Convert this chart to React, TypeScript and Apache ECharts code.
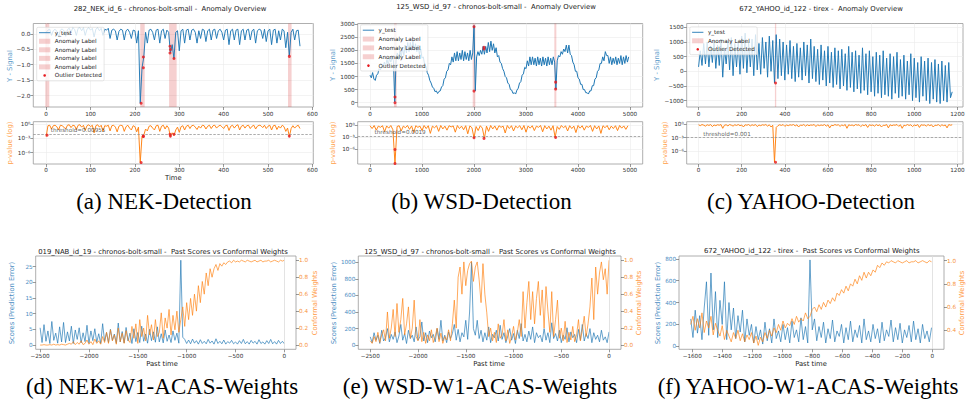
import React, { useEffect, useRef } from 'react';
import * as echarts from 'echarts';

const FONT = 'DejaVu Sans';
const SERIF = 'Liberation Serif';
const BLUE = '#1f77b4';
const ORANGE = '#ff7f0e';
const RED = '#e6191e';
const BAND = 'rgba(214,39,40,0.22)';
const TICK = 5.66;
const LABEL = 6.8;
const TITLE = 6.9;

// ---------------- (a) NEK detection ----------------
const nekX0 = 0;
const nekDx = 4;
const nekSignal = [
  0.05, 0.12, 0.15, -0.05, 0.1, 0.15, 0.08, -0.1, 0.12, 0.16,
  0.1, -0.08, 0.14, 0.18, 0.05, 0.2, 0.15, -0.05, 0.18, 0.2,
  0.1, 0.2, -0.05, 0.15, 0.2, 0.12, 0.18, -0.1, 0.15, 0.2,
  0.1, 0.18, -0.05, 0.15, 0.12, 0.18, -0.15, 0.12, 0.15, 0.1,
  -0.2, 0.08, 0.15, 0.12, -0.2, 0.1, 0.15, 0.05, -0.15, 0.12,
  0.1, -0.3, 0.1, -2.25, -1.1, -0.75, 0.05, -0.3, 0.12, 0.15,
  0.05, -0.2, 0.12, 0.15, -0.3, 0.1, 0.15, -0.15, 0.12, 0.05,
  -0.62, -0.35, -0.8, 0.05, 0.1, -0.55, 0.1, 0.15, -0.3, 0.12,
  0.15, -0.2, 0.12, 0.15, 0.05, -0.3, 0.1, -0.15, 0.15, 0.12,
  -0.25, 0.1, 0.15, -0.2, 0.12, 0.15, -0.15, 0.1, 0.15, 0.05,
  -0.2, 0.12, 0.15, -0.35, 0.1, 0.15, -0.2, 0.12, 0.15, -0.35,
  0.1, 0.15, -0.2, 0.12, 0.15, -0.2, 0.1, 0.15, -0.3, 0.1,
  0.15, 0.12, -0.15, 0.15, -0.25, 0.1, 0.15, -0.35, 0.12, 0.15,
  -0.3, 0.1, -0.2, 0.15, 0.1, -0.45, 0.05, -0.72, 0.05, 0.15,
  -0.2, 0.1, 0.12, -0.4,
];
const nekLog10P = [
  -2.6, -0.3, -0.2, -1.0, -0.3, -0.2, -0.5, -1.2, -0.2, -0.3,
  -0.6, -1.0, -0.2, -0.1, -0.7, -0.2, -0.3, -1.1, -0.2, -0.1,
  -0.6, -0.2, -1.3, -0.3, -0.1, -0.5, -0.2, -1.8, -0.3, -0.1,
  -0.6, -0.2, -1.5, -0.3, -0.4, -0.2, -1.4, -0.3, -0.2, -0.6,
  -1.6, -0.4, -0.2, -0.3, -1.5, -0.5, -0.2, -0.8, -1.2, -0.3,
  -0.5, -1.6, -0.6, -8.1, -2.5, -2.3, -1.0, -1.4, -0.4, -0.3,
  -0.8, -1.2, -0.3, -0.2, -1.5, -0.4, -0.2, -1.0, -0.3, -0.8,
  -2.6, -1.8, -2.4, -1.2, -0.6, -1.7, -0.5, -0.3, -1.2, -0.4,
  -0.2, -0.9, -0.3, -0.2, -0.6, -1.1, -0.4, -0.8, -0.2, -0.3,
  -1.0, -0.4, -0.2, -0.9, -0.3, -0.2, -0.8, -0.4, -0.2, -0.5,
  -0.9, -0.3, -0.2, -1.3, -0.4, -0.2, -0.8, -0.3, -0.1, -1.2,
  -0.4, -0.2, -0.8, -0.3, -0.2, -0.9, -0.4, -0.2, -1.0, -0.4,
  -0.2, -0.3, -0.7, -0.2, -0.9, -0.4, -0.2, -1.2, -0.3, -0.2,
  -1.1, -0.4, -0.8, -0.2, -0.5, -1.5, -0.8, -2.6, -0.9, -0.3,
  -0.8, -0.4, -0.2, -0.9,
];
const nekOutlierSignal = [[214, -2.25], [219, -1.1], [219, -0.75], [279, -0.4], [280, -0.51], [279, -0.62], [288, -0.8], [548, -0.73]];
const nekOutlierLog10P = [[2, -2.3], [214, -8.1], [219, -2.5], [219, -2.6], [279, -2.1], [280, -2.5], [288, -2.1], [548, -2.5]];
const nekAnomalyBands = [[-2, 7], [212, 222], [277, 294], [545, 553]];
const nekThreshold = 0.00955;
const nekXTicks = [0, 100, 200, 300, 400, 500, 600];
const nekYTicks = [-2, -1.5, -1, -0.5, 0];

// ---------------- (b) WSD detection ----------------
const wsdX0 = 0;
const wsdDx = 25;
const wsdPDx = 40;
const wsdSignal = [
  1050, 950, 1150, 900, 850, 1050, 1100, 1300, 1250, 1400,
  1350, 1550, 1400, 1650, 1450, 1700, 1550, 1750, 1600, 30,
  1600, 1900, 1650, 2000, 1750, 2100, 1800, 2200, 1900, 2300,
  1950, 2300, 2000, 2350, 2000, 2250, 1950, 2200, 1850, 2050,
  1700, 1750, 1450, 1400, 1150, 1050, 850, 750, 600, 550,
  420, 450, 350, 430, 450, 600, 650, 900, 950, 1200,
  1250, 1500, 1450, 1750, 1550, 1900, 1600, 1950, 1600, 1900,
  1650, 2000, 1600, 1950, 1650, 1900, 1600, 2000, 1650, 1900,
  2950, 450, 1750, 1950, 1800, 2000, 1850, 2150, 1850, 2150,
  1900, 2300, 1950, 2350, 2000, 2250, 1900, 2100, 1750, 1800,
  1550, 1500, 1300, 1200, 1000, 950, 750, 700, 500, 480,
  350, 380, 330, 480, 550, 750, 800, 1050, 1100, 1350,
  1300, 1600, 1400, 1750, 1450, 1750, 1450, 1700, 1400, 1750,
  1450, 1700, 1400, 1750, 1450, 1700, 1400, 1750, 1450, 1700,
  1450, 1750, 1550, 520, 1600, 1800, 1750, 1950, 1850, 2050,
  1950, 2200, 1900, 2200, 1850, 1800, 1550, 1450, 1200, 1200,
  950, 900, 700, 700, 500, 500, 380, 380, 330, 450,
  450, 650, 650, 900, 950, 1200, 1250, 1500, 1500, 1750,
  1600, 1950, 1800, 1800, 1500, 1750, 1450, 1700, 1500, 1750,
  1450, 1700, 1500, 1800, 1450, 1750, 1500, 1800, 1550, 1750,
];
const wsdLog10P = [
  -0.1, -0.8, -0.05, -1.2, -0.2, -0.5, -0.1, -1.6, -0.15, -0.7,
  -0.05, -1.1, -9.5, -0.3, -0.1, -1.4, -0.2, -0.6, -0.05, -1.0,
  -0.15, -1.8, -0.1, -0.5, -0.2, -1.3, -0.05, -0.8, -0.1, -2.0,
  -0.2, -0.6, -0.1, -1.5, -0.05, -0.9, -0.2, -1.2, -0.1, -0.4,
  -0.15, -1.7, -0.05, -0.8, -0.2, -1.1, -0.1, -2.1, -0.15, -0.6,
  -3.1, -0.3, -1.3, -0.1, -0.7, -3.2, -0.2, -1.5, -0.05, -0.9,
  -0.15, -1.2, -0.1, -0.5, -0.2, -1.9, -0.05, -0.8, -0.1, -1.4,
  -0.2, -0.6, -0.1, -1.1, -0.05, -1.7, -0.15, -0.7, -0.1, -1.3,
  -0.2, -0.5, -0.05, -1.6, -0.1, -0.9, -0.2, -1.2, -0.1, -3.0,
  -0.3, -1.0, -0.05, -0.6, -0.15, -1.4, -0.1, -0.8, -0.2, -1.8,
  -0.05, -0.7, -0.1, -1.2, -0.2, -0.5, -0.05, -1.5, -0.1, -0.9,
  -0.15, -2.0, -0.1, -0.6, -0.05, -1.1, -0.2, -0.8, -0.1, -1.3,
  -0.05, -0.7, -0.15, -1.0, -0.1,
];
const wsdOutlierSignal = [[480, 215], [480, 0], [2000, 2900], [2000, 443], [2192, 2114], [2192, 2050], [3570, 785], [3570, 519]];
const wsdOutlierLog10P = [[480, -6.0], [480, -9.5], [2000, -3.1], [2192, -3.25], [3570, -3.0]];
const wsdAnomalyBands = [[462, 512], [1975, 2025], [3545, 3583]];
const wsdThreshold = 0.0019;
const wsdXTicks = [0, 1000, 2000, 3000, 4000, 5000];
const wsdYTicks = [0, 500, 1000, 1500, 2000, 2500, 3000];

// ---------------- (c) YAHOO detection ----------------
const yahooX0 = 0;
const yahooDx = 8;
const yahooSignal = [
  150, 700, 200, 950, 250, 1000, 150, 850, 300, 1050,
  100, 900, 200, 1100, -200, 800, 250, 1000, 50, 1150,
  -150, 950, 150, 1050, -100, 1200, 100, 1300, -50, 1000,
  150, 1100, -150, 1250, 50, 950, -100, 1150, 100, 1000,
  -200, 1200, 0, 1050, -400, 1250, -250, 1100, -150, 1000,
  -300, 900, -100, 1050, -250, 850, -350, 950, -200, 800,
  -300, 1000, -150, 900, -400, 1100, -250, 850, -350, 750,
  -450, 900, -300, 700, -500, 850, -400, 650, -550, 800,
  -450, 700, -600, 750, -500, 600, -650, 850, -550, 650,
  -700, 700, -600, 550, -750, 800, -650, 600, -800, 700,
  -700, 500, -850, 650, -750, 550, -900, 700, -800, 450,
  -850, 600, -950, 500, -750, 650, -900, 400, -850, 550,
  -950, 350, -800, 600, -1000, 450, -900, 300, -1050, 500,
  -850, 350, -1000, 450, -1100, 300, -950, 400, -1050, 250,
  -1100, 350, -1000, 200, -1050, 300, -900, -700,
];
const yahooLog10P = [
  -0.1, -0.3, -0.05, -0.2, -0.4, -0.1, -0.25, -0.05, -0.5, -0.15,
  -0.3, -0.1, -0.2, -0.05, -0.9, -0.2, -0.1, -0.35, -0.05, -0.2,
  -0.4, -0.1, -0.25, -0.05, -0.3, -0.15, -0.6, -0.1, -0.2, -0.05,
  -0.35, -0.1, -0.25, -0.05, -0.5, -0.15, -0.3, -0.1, -0.2, -0.05,
  -0.4, -0.1, -0.6, -0.2, -8.6, -0.7, -0.3, -0.1, -0.25, -0.05,
  -0.45, -0.15, -0.3, -0.1, -0.2, -0.05, -0.35, -0.1, -0.6, -0.15,
  -0.25, -0.05, -0.4, -0.1, -0.3, -0.15, -0.2, -0.05, -0.5, -0.1,
  -0.3, -0.15, -0.25, -0.05, -0.4, -0.1, -0.8, -0.2, -0.3, -0.05,
  -0.2, -0.1, -0.45, -0.15, -0.3, -0.05, -0.9, -0.1, -0.25, -0.15,
  -0.35, -0.05, -0.2, -0.1, -0.5, -0.15, -0.3, -0.05, -0.7, -0.1,
  -0.25, -0.15, -0.4, -0.05, -0.3, -0.1, -0.6, -0.2, -0.25, -0.05,
  -0.8, -0.1, -0.3, -0.15, -0.2, -0.05, -0.45, -0.1, -0.9, -0.2,
  -0.3, -0.05, -0.25, -0.1, -0.5, -0.15, -0.3, -0.05, -0.7, -0.1,
  -0.2, -0.15, -0.4, -0.05, -0.3, -0.1, -0.6, -0.2, -0.25, -0.05,
  -0.45, -0.1, -0.3, -0.15, -0.8, -0.05, -0.2, -0.1,
];
const yahooOutlierSignal = [[357, -401]];
const yahooOutlierLog10P = [[357, -8.6]];
const yahooAnomalyBands = [[354, 360]];
const yahooThreshold = 0.001;
const yahooXTicks = [0, 200, 400, 600, 800, 1000, 1200];
const yahooYTicks = [-1000, -500, 0, 500, 1000, 1500];

const pTicks = [-6, -3, 0];

// ---------------- (d) NAB weights ----------------
const nabX0 = -2500;
const nabDx = 20;
const nabScores = [
  5.5, 0.8, 6.5, 1.2, 4.5, 0.5, 7.5, 1.5, 3.8, 0.6,
  5.8, 1.0, 7.2, 0.8, 4.2, 1.3, 6.0, 0.5, 4.8, 1.8,
  5.5, 0.7, 3.9, 1.1, 6.3, 0.6, 4.5, 1.4, 5.2, 0.9,
  3.6, 0.5, 6.8, 1.2, 4.0, 0.8, 5.0, 1.5, 3.5, 0.6,
  7.0, 1.0, 4.3, 0.7, 5.6, 1.3, 3.8, 0.5, 5.2, 1.1,
  4.0, 0.8, 6.0, 1.2, 3.5, 0.6, 5.0, 1.4, 4.2, 0.9,
  5.8, 1.0, 3.6, 0.7, 4.8, 1.2, 3.2, 0.8, 4.5, 1.5,
  3.8, 0.6, 27, 2.5, 1.8, 0.5, 1.6, 0.4, 1.9, 0.6,
  1.4, 0.3, 1.7, 0.5, 1.2, 0.4, 1.8, 0.6, 1.3, 0.3,
  2.0, 0.5, 1.2, 0.4, 1.6, 0.3, 1.1, 0.6, 1.5, 0.4,
  1.0, 0.3, 1.4, 0.5, 1.8, 0.4, 1.1, 0.3, 1.5, 0.6,
  1.2, 0.3, 1.7, 0.5, 1.0, 0.3, 1.4, 0.5, 1.8, 0.4,
  1.1, 0.3, 1.5, 0.5, 1.2, 0.4,
];
const nabWeights = [
  0, 0, 0.005, 0, 0, 0.005, 0, 0.01, 0, 0.005, 0, 0.01, 0.005, 0, 0.01, 0.02,
  0.01, 0.04, 0.005, 0.03, 0.01, 0.05, 0.005, 0.02, 0.06, 0.01, 0.04, 0.005, 0.07, 0.02, 0.05,
  0.01, 0.1, 0.03, 0.15, 0.02, 0.18, 0.05, 0.12, 0.01, 0.2, 0.04, 0.14, 0.02, 0.17, 0.06,
  0.03, 0.22, 0.08, 0.25, 0.02, 0.3, 0.1, 0.2, 0.05, 0.35, 0.12, 0.24, 0.06, 0.3, 0.1,
  0.15, 0.38, 0.08, 0.32, 0.2, 0.42, 0.12, 0.35, 0.18, 0.4, 0.15, 0.3,
  0.45, 0.22, 0.5, 0.3, 0.55, 0.35, 0.6, 0.4,
  0.7, 0.5, 0.75, 0.6, 0.85, 0.7, 0.9, 0.8,
  0.9, 0.95, 0.88, 0.96, 0.93, 0.97, 0.95,
  0.98, 0.99, 0.97, 1.0, 0.98, 0.99, 0.98, 1.0, 0.99, 0.98,
  1.0, 0.99, 0.98, 0.99, 1.0, 0.98, 0.99, 1.0, 0.98, 0.99,
  0.99, 1.0, 0.98, 0.99, 1.0, 0.99, 0.98, 1.0, 0.99, 1.0,
];

// ---------------- (e) WSD weights ----------------
const wsdwX0 = -2500;
const wsdwDx = 20;
const wsdScores = [
  100, 30, 150, 60, 120, 20, 180, 50, 90, 200,
  40, 130, 70, 160, 30, 110, 250, 60, 140, 20,
  180, 80, 120, 40, 220, 60, 100, 280, 50, 150,
  30, 170, 90, 130, 40, 200, 70, 300, 50, 120,
  30, 160, 80, 140, 250, 60, 190, 40, 150, 100,
  300, 70, 400, 1000, 200, 120, 300, 80, 180, 40,
  150, 60, 220, 30, 130, 90, 180, 50, 240, 70,
  150, 30, 110, 200, 60, 140, 20, 180, 80, 260,
  50, 130, 40, 170, 70, 220, 30, 150, 90, 120,
  40, 200, 60, 150, 30, 270, 80, 140, 50, 180,
  30, 120, 70, 210, 40, 160, 90, 130, 30, 190,
  60, 250, 50, 140, 80, 200, 30, 150, 70, 120,
  40, 180, 60, 100, 30, 160,
];
const wsdWeights = [
  0.05, 0.02, 0.1, 0.04, 0.15, 0.03, 0.12, 0.18, 0.05, 0.39,
  0.08, 0.2, 0.42, 0.1, 0.49, 0.15, 0.3, 0.55, 0.12, 0.25,
  0.45, 0.08, 0.2, 0.53, 0.1, 0.05, 0.3, 0.04, 0.15, 0.02,
  0.12, 0.05, 0.18, 0.03, 0.1, 0.2, 0.04, 0.14, 0.02, 0.1,
  0.06, 0.18, 0.05, 0.25, 0.53, 0.2, 0.8, 0.92, 0.6, 0.98,
  0.7, 0.88, 0.96, 0.99, 0.75, 0.92, 0.98, 0.77, 0.5, 0.96,
  0.6, 0.38, 0.1, 0.2, 0.05, 0.15, 0.03, 0.25, 0.08, 0.12,
  0.3, 0.05, 0.18, 0.02, 0.1, 0.22, 0.06, 0.15, 0.3, 0.1,
  0.63, 0.2, 0.5, 0.75, 0.3, 0.63, 0.25, 0.55, 0.75, 0.35,
  0.65, 0.2, 0.69, 0.4, 0.15, 0.63, 0.1, 0.3, 0.53, 0.08,
  0.2, 0.05, 0.28, 0.03, 0.15, 0.06, 0.22, 0.04, 0.12, 0.3,
  0.05, 0.18, 0.34, 0.1, 0.25, 0.45, 0.79, 0.3, 0.92, 0.6,
  0.85, 0.98, 0.77, 0.9, 0.6, 1.0,
];

// ---------------- (f) YAHOO weights ----------------
const yhwX0 = -1610;
const yhwDx = 15;
const yahooScores = [
  250, 80, 330, 120, 280, 60, 350, 590, 100, 670,
  150, 500, 80, 420, 200, 590, 60, 400, 150, 350,
  70, 280, 130, 330, 40, 250, 100, 200, 30, 180,
  60, 150, 20, 220, 50, 160, 30, 250, 70, 140,
  40, 200, 60, 170, 30, 230, 80, 150, 40, 260,
  60, 180, 30, 790, 150, 250, 50, 180, 80, 220,
  30, 160, 70, 240, 40, 140, 90, 200, 30, 170,
  60, 230, 40, 150, 80, 190, 30, 250, 60, 140,
  40, 200, 70, 160, 30, 220, 50, 150, 90, 240,
  40, 170, 60, 210, 30, 150, 80, 190, 40, 230,
  60, 160, 30, 200, 70, 140, 40, 170,
];
const yahooWeights = [
  0.45, 0.52, 0.4, 0.5, 0.42, 0.55, 0.38, 0.48, 0.42, 0.52,
  0.36, 0.46, 0.4, 0.35, 0.44, 0.32, 0.4, 0.35, 0.3, 0.38,
  0.33, 0.4, 0.31, 0.37, 0.3, 0.36, 0.32, 0.38, 0.29, 0.35,
  0.27, 0.34, 0.3, 0.38, 0.33, 0.4, 0.35, 0.42, 0.38, 0.45,
  0.4, 0.48, 0.42, 0.46, 0.44, 0.5, 0.45, 0.52, 0.47, 0.5,
  0.48, 0.55, 0.5, 0.52, 0.58, 0.6, 0.56, 0.62, 0.58, 0.64,
  0.6, 0.66, 0.63, 0.68, 0.65, 0.72, 0.7, 0.75, 0.72, 0.78,
  0.74, 0.8, 0.78, 0.84, 0.8, 0.87, 0.83, 0.9, 0.85, 0.9,
  0.87, 0.92, 0.9, 0.96, 0.94, 0.98, 0.96, 0.99, 0.98, 1.0,
  0.99, 0.98, 1.0, 0.99, 0.98, 0.99, 1.0, 0.98, 0.99, 0.99,
  1.0, 0.98, 0.99, 1.0, 0.99, 0.98, 1.0, 0.99,
];

const pastTicksLong = [-2500, -2000, -1500, -1000, -500, 0];
const pastTicksShort = [-1600, -1400, -1200, -1000, -800, -600, -400, -200, 0];
const nabScoreTicks = [0, 5, 10, 15, 20, 25];
const wsdScoreTicks = [0, 200, 400, 600, 800, 1000];
const yahooScoreTicks = [0, 200, 400, 600, 800];
const weightTicks = [0, 0.2, 0.4, 0.6, 0.8, 1.0];
const yahooWeightTicks = [0.4, 0.6, 0.8, 1.0];

// ---------------- helpers ----------------
const SUP: Record<string, string> = { '0': '\u2070', '1': '\u00b9', '2': '\u00b2', '3': '\u00b3', '4': '\u2074', '5': '\u2075', '6': '\u2076', '7': '\u2077', '8': '\u2078', '9': '\u2079', '-': '\u207b' };
const fmtInt = (v: number) => String(v).replace('-', '\u2212');
const fmt1 = (v: number) => v.toFixed(1).replace('-', '\u2212');
const fmtPow = (v: number) => '10' + String(Math.round(v)).split('').map((c) => SUP[c] || c).join('');
const pts = (x0: number, dx: number, ys: number[]) => ys.map((y, i) => [x0 + dx * i, y]);

function valAxis(o: any) {
  return {
    type: 'value',
    gridIndex: o.grid,
    position: o.position,
    min: o.min,
    max: o.max,
    axisLine: { show: false, onZero: false },
    axisTick: { show: true, length: 3, customValues: o.ticks, lineStyle: { color: '#555', width: 0.6 } },
    axisLabel: {
      show: true, customValues: o.ticks, formatter: o.fmt, margin: o.margin == null ? 3 : o.margin,
      fontFamily: FONT, fontSize: TICK, color: o.color || '#333',
    },
    splitLine: { show: !!o.split, lineStyle: { color: '#ebebeb', width: 0.6 } },
  };
}

function lineS(xi: number, yi: number, data: number[][], color: string, opacity = 1, width = 0.8, extra: any = {}) {
  return {
    type: 'line', xAxisIndex: xi, yAxisIndex: yi, data, symbol: 'none', showSymbol: false,
    silent: true, clip: true, lineStyle: { color, width, opacity }, itemStyle: { color }, ...extra,
  };
}
function dotsS(xi: number, yi: number, data: number[][]) {
  return { type: 'scatter', xAxisIndex: xi, yAxisIndex: yi, data, symbol: 'circle', symbolSize: 3, itemStyle: { color: RED }, silent: true, z: 6 };
}
function bandsArea(b: number[][]) {
  return { silent: true, itemStyle: { color: BAND }, data: b.map(([a, c]) => [{ xAxis: a }, { xAxis: c }]) };
}
function thresholdS(xi: number, yi: number, xText: number, thr: number) {
  const y = Math.log10(thr);
  return {
    type: 'scatter', xAxisIndex: xi, yAxisIndex: yi, data: [[xText, y]], symbolSize: 1, silent: true, z: 7,
    itemStyle: { color: 'rgba(0,0,0,0)' },
    label: { show: true, position: 'right', distance: 0, offset: [0, -3.8], formatter: 'threshold=' + String(thr), fontFamily: FONT, fontSize: TICK, color: '#333' },
    markLine: {
      silent: true, symbol: ['none', 'none'], label: { show: false },
      lineStyle: { color: '#8a8a8a', width: 0.7, type: [2.5, 1.5] }, data: [{ yAxis: y }],
    },
  };
}
function txt(x: number, y: number, t: string, size: number, fill: string, align = 'center', rot = 0, family = FONT) {
  return {
    type: 'text', x, y, rotation: rot, z: 102, silent: true,
    style: { text: t, fontFamily: family, fontSize: size, fill, align, verticalAlign: 'middle', textAlign: align, textVerticalAlign: 'middle' },
  };
}
function legendEls(bx: number, y0: number, dy: number, rows: [string, string][]) {
  const n = rows.length;
  const w = 67.4;
  const els: any[] = [{
    type: 'rect', z: 100, silent: true,
    shape: { x: bx, y: y0 - 5.4, width: w, height: (n - 1) * dy + 10.8, r: 1.5 },
    style: { fill: 'rgba(255,255,255,0.8)', stroke: '#d4d4d4', lineWidth: 0.6 },
  }];
  const h0 = bx + 2.3, h1 = bx + 13.6, tx = bx + 18.1;
  rows.forEach(([kind, label], i) => {
    const y = y0 + dy * i;
    if (kind === 'line') els.push({ type: 'line', z: 101, silent: true, shape: { x1: h0, y1: y, x2: h1, y2: y }, style: { stroke: BLUE, lineWidth: 0.9 } });
    else if (kind === 'patch') els.push({ type: 'rect', z: 101, silent: true, shape: { x: h0, y: y - 2.5, width: h1 - h0, height: 5 }, style: { fill: BAND } });
    else els.push({ type: 'circle', z: 101, silent: true, shape: { cx: (h0 + h1) / 2, cy: y, r: 1.3 }, style: { fill: RED } });
    els.push(txt(tx, y, label, TICK, '#222', 'left'));
  });
  return els;
}

// ---------------- layout ----------------
const topCols = [{ left: 33.3, width: 280 }, { left: 357.7, width: 285 }, { left: 686.7, width: 276.3 }];
const botCols = [{ left: 35.7, width: 260.3 }, { left: 358.3, width: 262.7 }, { left: 679, width: 265 }];
const SIG_TOP = 23.5, SIG_H = 83.5, P_TOP = 121.7, P_H = 42.3, BOT_TOP = 256, BOT_H = 93.3;

function buildOption() {
  const gridBase = { show: true, borderColor: '#9a9a9a', borderWidth: 0.8, backgroundColor: 'rgba(0,0,0,0)', containLabel: false, outerBoundsMode: 'none' };
  const grid = [
    ...topCols.map((c) => ({ ...gridBase, left: c.left, width: c.width, top: SIG_TOP, height: SIG_H })),
    ...topCols.map((c) => ({ ...gridBase, left: c.left, width: c.width, top: P_TOP, height: P_H })),
    ...botCols.map((c) => ({ ...gridBase, left: c.left, width: c.width, top: BOT_TOP, height: BOT_H })),
  ];

  const xAxis = [
    valAxis({ grid: 0, min: -29, max: 602, ticks: nekXTicks, fmt: fmtInt, split: true, margin: 3.5 }),
    valAxis({ grid: 1, min: -237, max: 5244, ticks: wsdXTicks, fmt: fmtInt, split: true, margin: 3.5 }),
    valAxis({ grid: 2, min: -55, max: 1226, ticks: yahooXTicks, fmt: fmtInt, split: true, margin: 3.5 }),
    valAxis({ grid: 3, min: -29, max: 602, ticks: nekXTicks, fmt: fmtInt, split: true, margin: 3 }),
    valAxis({ grid: 4, min: -237, max: 5244, ticks: wsdXTicks, fmt: fmtInt, split: true, margin: 3 }),
    valAxis({ grid: 5, min: -55, max: 1226, ticks: yahooXTicks, fmt: fmtInt, split: true, margin: 3 }),
    valAxis({ grid: 6, min: -2545, max: 119, ticks: pastTicksLong, fmt: fmtInt, margin: 3.5 }),
    valAxis({ grid: 7, min: -2625, max: 125, ticks: pastTicksLong, fmt: fmtInt, margin: 3.5 }),
    valAxis({ grid: 8, min: -1688, max: 78, ticks: pastTicksShort, fmt: fmtInt, margin: 3.5 }),
  ];
  const LBLUE = '#4a8cc2', LORANGE = '#f7923a';
  const yAxis = [
    valAxis({ grid: 0, min: -2.37, max: 0.335, ticks: nekYTicks, fmt: fmt1, split: true }),
    valAxis({ grid: 1, min: -165, max: 3025, ticks: wsdYTicks, fmt: fmtInt, split: true }),
    valAxis({ grid: 2, min: -1217, max: 1630, ticks: yahooYTicks, fmt: fmtInt, split: true }),
    valAxis({ grid: 3, min: -8.4, max: 0.55, ticks: pTicks, fmt: fmtPow, split: true }),
    valAxis({ grid: 4, min: -9.6, max: 0.9, ticks: pTicks, fmt: fmtPow, split: true }),
    valAxis({ grid: 5, min: -9.0, max: 0.6, ticks: pTicks, fmt: fmtPow, split: true }),
    valAxis({ grid: 6, position: 'left', min: -1.35, max: 28.35, ticks: nabScoreTicks, fmt: fmtInt, color: LBLUE }),
    valAxis({ grid: 6, position: 'right', min: -0.05, max: 1.05, ticks: weightTicks, fmt: fmt1, color: LORANGE }),
    valAxis({ grid: 7, position: 'left', min: -50, max: 1076, ticks: wsdScoreTicks, fmt: fmtInt, color: LBLUE }),
    valAxis({ grid: 7, position: 'right', min: -0.05, max: 1.05, ticks: weightTicks, fmt: fmt1, color: LORANGE }),
    valAxis({ grid: 8, position: 'left', min: -28, max: 826, ticks: yahooScoreTicks, fmt: fmtInt, color: LBLUE }),
    valAxis({ grid: 8, position: 'right', min: 0.236, max: 1.04, ticks: yahooWeightTicks, fmt: fmt1, color: LORANGE }),
  ];

  const zeroLine = { silent: true, symbol: ['none', 'none'], label: { show: false }, lineStyle: { color: '#dcdcdc', width: 0.8, type: 'solid' }, data: [{ xAxis: 0 }] };

  const series: any[] = [
    // (a)
    lineS(0, 0, pts(nekX0, nekDx, nekSignal), BLUE, 1, 0.95, { markArea: bandsArea(nekAnomalyBands) }),
    dotsS(0, 0, nekOutlierSignal),
    lineS(3, 3, pts(nekX0, nekDx, nekLog10P), ORANGE, 1, 0.95),
    thresholdS(3, 3, 9, nekThreshold),
    dotsS(3, 3, nekOutlierLog10P),
    // (b)
    lineS(1, 1, pts(wsdX0, wsdDx, wsdSignal), BLUE, 1, 1.0, { markArea: bandsArea(wsdAnomalyBands) }),
    dotsS(1, 1, wsdOutlierSignal),
    lineS(4, 4, pts(wsdX0, wsdPDx, wsdLog10P), ORANGE, 1, 0.95),
    thresholdS(4, 4, 77, wsdThreshold),
    dotsS(4, 4, wsdOutlierLog10P),
    // (c)
    lineS(2, 2, pts(yahooX0, yahooDx, yahooSignal), BLUE, 1, 0.95, { markArea: bandsArea(yahooAnomalyBands) }),
    dotsS(2, 2, yahooOutlierSignal),
    lineS(5, 5, pts(yahooX0, yahooDx, yahooLog10P), ORANGE, 1, 0.95),
    thresholdS(5, 5, 19, yahooThreshold),
    dotsS(5, 5, yahooOutlierLog10P),
    // (d)
    lineS(6, 6, pts(nabX0, nabDx, nabScores), BLUE, 0.8, 0.85, { markLine: zeroLine }),
    lineS(6, 7, pts(nabX0, nabDx, nabWeights), ORANGE, 0.78, 0.85),
    // (e)
    lineS(7, 8, pts(wsdwX0, wsdwDx, wsdScores), BLUE, 0.8, 0.85, { markLine: zeroLine }),
    lineS(7, 9, pts(wsdwX0, wsdwDx, wsdWeights), ORANGE, 0.78, 0.85),
    // (f)
    lineS(8, 10, pts(yhwX0, yhwDx, yahooScores), BLUE, 0.8, 0.85, { markLine: zeroLine }),
    lineS(8, 11, pts(yhwX0, yhwDx, yahooWeights), ORANGE, 0.78, 0.85),
  ];

  const YL = '#64a0cc', PL = '#ffa552', SL = '#4a8cc2', WL = '#ff9a45';
  const R90 = Math.PI / 2;
  const CAP = 23;
  const graphic: any[] = [
    txt(170, 8.5, '282_NEK_id_6 - chronos-bolt-small -  Anomaly Overview', TITLE, '#222'),
    txt(496, 6.8, '125_WSD_id_97 - chronos-bolt-small -  Anomaly Overview', TITLE, '#222'),
    txt(821, 8.7, '672_YAHOO_id_122 - tirex -  Anomaly Overview', TITLE, '#222'),
    txt(163, 251.7, '019_NAB_id_19 - chronos-bolt-small -  Past Scores vs Conformal Weights', TITLE, '#222'),
    txt(490, 251.7, '125_WSD_id_97 - chronos-bolt-small -  Past Scores vs Conformal Weights', TITLE, '#222'),
    txt(811.7, 251.3, '672_YAHOO_id_122 - tirex -  Past Scores vs Conformal Weights', TITLE, '#222'),

    txt(10, 66, 'Y - Signal', LABEL, YL, 'center', R90),
    txt(10, 143, 'p-value (log)', LABEL, PL, 'center', R90),
    txt(332.7, 65, 'Y - Signal', LABEL, YL, 'center', R90),
    txt(332.7, 143, 'p-value (log)', LABEL, PL, 'center', R90),
    txt(656.7, 65, 'Y - Signal', LABEL, YL, 'center', R90),
    txt(665, 143, 'p-value (log)', LABEL, PL, 'center', R90),
    txt(173.3, 177.7, 'Time', LABEL, '#222'),

    txt(11.7, 303, 'Scores (Prediction Error)', LABEL, SL, 'center', R90),
    txt(315, 303, 'Conformal Weights', LABEL, WL, 'center', R90),
    txt(334, 303, 'Scores (Prediction Error)', LABEL, SL, 'center', R90),
    txt(639, 303, 'Conformal Weights', LABEL, WL, 'center', R90),
    txt(658.3, 303, 'Scores (Prediction Error)', LABEL, SL, 'center', R90),
    txt(962.3, 303, 'Conformal Weights', LABEL, WL, 'center', R90),
    txt(162, 364, 'Past time', LABEL, '#222'),
    txt(489, 364, 'Past time', LABEL, '#222'),
    txt(811, 364, 'Past time', LABEL, '#222'),

    txt(164, 201, '(a) NEK-Detection', CAP, '#000', 'center', 0, SERIF),
    txt(481.5, 201, '(b) WSD-Detection', CAP, '#000', 'center', 0, SERIF),
    txt(811, 201, '(c) YAHOO-Detection', CAP, '#000', 'center', 0, SERIF),
    txt(162, 386.5, '(d) NEK-W1-ACAS-Weights', CAP, '#000', 'center', 0, SERIF),
    txt(480, 386.5, '(e) WSD-W1-ACAS-Weights', CAP, '#000', 'center', 0, SERIF),
    txt(808, 386.5, '(f) YAHOO-W1-ACAS-Weights', CAP, '#000', 'center', 0, SERIF),

    ...legendEls(36.7, 32.7, 8.55, [['line', 'y_test'], ['patch', 'Anomaly Label'], ['patch', 'Anomaly Label'], ['patch', 'Anomaly Label'], ['patch', 'Anomaly Label'], ['dot', 'Outlier Detected']]),
    ...legendEls(360.5, 30.2, 8.85, [['line', 'y_test'], ['patch', 'Anomaly Label'], ['patch', 'Anomaly Label'], ['patch', 'Anomaly Label'], ['dot', 'Outlier Detected']]),
    ...legendEls(689.8, 32.3, 8.5, [['line', 'y_test'], ['patch', 'Anomaly Label'], ['dot', 'Outlier Detected']]),
  ];

  return { animation: false, backgroundColor: '#ffffff', grid, xAxis, yAxis, series, graphic };
}

export default function App() {
  const ref = useRef<HTMLDivElement>(null);
  useEffect(() => {
    const chart = echarts.init(ref.current as HTMLDivElement, null, { renderer: 'svg' });
    chart.setOption(buildOption() as any);
    return () => chart.dispose();
  }, []);
  return <div ref={ref} style={{ position: 'absolute', left: 0, top: 0, width: 967, height: 406, background: '#fff' }} />;
}
